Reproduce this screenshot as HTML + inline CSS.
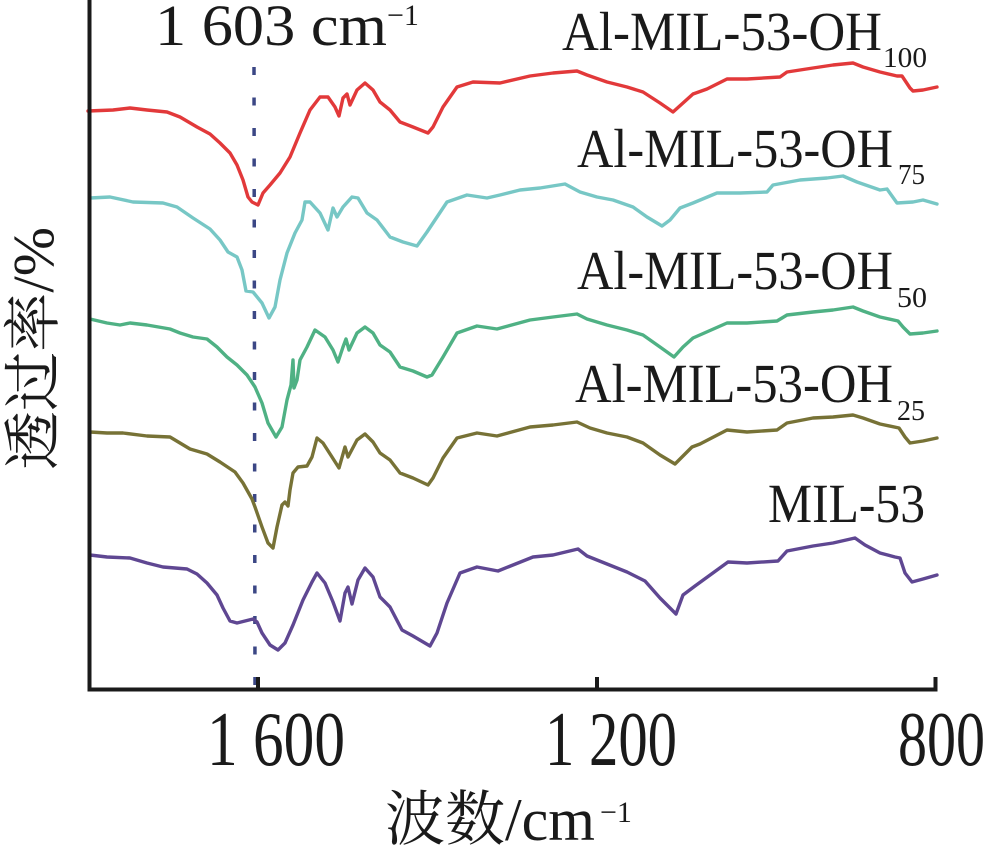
<!DOCTYPE html>
<html>
<head>
<meta charset="utf-8">
<style>
  html, body { margin: 0; padding: 0; background: #ffffff; }
  svg { display: block; }
  .serif { font-family: "Liberation Serif", "Noto Serif CJK SC", serif; fill: #1a1a1a; }
  .cjk { font-family: "Liberation Serif", "Noto Serif CJK SC", serif; fill: #1a1a1a; }
  .curve { fill: none; stroke-width: 3.4; stroke-linejoin: round; stroke-linecap: round; }
</style>
</head>
<body>
<svg width="987" height="847" viewBox="0 0 987 847" xmlns="http://www.w3.org/2000/svg">
  <rect x="0" y="0" width="987" height="847" fill="#ffffff"/>

  <!-- dashed marker line at 1603 -->
  <line x1="254" y1="67" x2="255" y2="686" stroke="#3b4785" stroke-width="3.5" stroke-dasharray="8 22.5"/>

  <!-- Red: Al-MIL-53-OH100 -->
  <polyline class="curve" stroke="#e2393a" points="
    88,111 113,110 130,108 147,110 167,112 180,117 197,127 210,134 220,143 230,153 237,165 243,180 248,197 252,202 258,205
    263,193 270,185 280,173 290,157 300,133 310,110 320,97 328,97 335,107 339,116 343,98 347,94 350,105 357,90 365,83
    373,90 380,102 390,110 400,122 413,127 428,133 433,127 443,107 457,87 473,82 500,83
    530,76 553,73 577,71 587,75 607,82 627,87 643,92 660,103 673,112 683,103 693,94 707,89 727,79 747,79 780,77 787,72
    813,68 833,65 853,63 863,67 880,72 897,76 902,76 910,88 913,91 923,90 937,87"/>

  <!-- Cyan: Al-MIL-53-OH75 -->
  <polyline class="curve" stroke="#77c7c5" points="
    90,198 110,197 133,202 163,203 177,207 193,218 210,229 220,240 228,252 237,257 242,270 246,291 253,292 262,303 269,318
    275,307 280,280 287,253 295,233 302,220 305,202 310,202 320,213 328,230 333,208 337,217 343,207 352,197 358,198
    367,213 377,220 390,237 403,242 417,246 427,232 437,217 447,202 467,195 487,198 500,195
    520,190 540,188 565,184 580,192 597,197 613,200 633,207 647,217 662,226 670,220 680,208 693,203 717,193 740,193
    767,192 773,185 800,180 827,178 843,176 857,182 880,190 887,189 897,203 913,202 923,200 937,204"/>

  <!-- Green: Al-MIL-53-OH50 -->
  <polyline class="curve" stroke="#4fb184" points="
    90,319 107,323 120,325 130,323 147,325 170,329 180,333 193,337 207,339 217,347 227,357 237,365 247,375 255,387
    262,403 268,423 276,437 282,427 287,400 291,385 293,360 294,388 297,380 300,360 307,347 315,330 325,337 333,350
    338,362 343,347 346,339 349,350 357,333 365,327 373,333 380,345 390,352 400,367 413,371 427,377 432,375 443,357
    457,333 477,326 497,329 530,320 553,317 577,314 587,319 607,325 627,330 643,335 660,347 674,357 683,347 693,338
    727,323 747,323 777,321 787,315 813,312 833,310 853,307 863,311 880,317 898,321 903,327 910,334 923,333 937,331"/>

  <!-- Olive: Al-MIL-53-OH25 -->
  <polyline class="curve" stroke="#777236" points="
    90,432 107,433 123,433 147,436 170,437 180,443 190,449 207,454 220,462 235,472 243,483 252,499 255,507 262,527
    268,543 273,548 277,527 282,505 285,502 288,506 290,490 293,473 298,467 307,466 312,457 317,438 323,443 332,457
    339,468 345,447 348,457 357,440 365,434 373,442 380,453 390,460 400,473 413,478 428,485 433,478 443,458 457,438
    477,433 497,436 530,427 553,425 577,422 590,428 607,433 627,437 643,443 660,455 675,464 692,447 700,444 727,430
    747,432 777,430 787,423 813,418 833,417 853,415 863,418 880,424 899,428 905,437 910,443 923,441 937,438"/>

  <!-- Purple: MIL-53 -->
  <polyline class="curve" stroke="#5f4792" points="
    90,555 107,557 130,558 147,563 163,567 187,569 197,574 207,583 217,595 223,608 230,621 237,623 253,619 257,622
    262,633 270,645 278,650 285,643 293,625 303,600 312,582 317,573 325,583 333,602 340,621 345,593 348,587 352,604
    358,580 365,568 373,577 380,597 390,607 402,630 413,636 430,646 437,633 447,603 460,573 477,567 498,571 533,557
    553,555 578,549 587,556 607,564 627,572 645,581 660,598 676,614 683,595 695,586 728,562 747,563 778,561 787,551
    813,546 833,543 855,538 865,545 880,553 895,557 900,558 905,573 912,582 923,579 937,575"/>

  <!-- Axes -->
  <line x1="89.5" y1="0" x2="89.5" y2="691.5" stroke="#1a1a1a" stroke-width="4"/>
  <line x1="87.5" y1="689.5" x2="937.5" y2="689.5" stroke="#1a1a1a" stroke-width="4"/>
  <line x1="258" y1="677" x2="258" y2="689" stroke="#1a1a1a" stroke-width="4"/>
  <line x1="597" y1="677" x2="597" y2="689" stroke="#1a1a1a" stroke-width="4"/>
  <line x1="935.5" y1="677" x2="935.5" y2="689" stroke="#1a1a1a" stroke-width="4"/>

  <!-- Tick labels -->
  <text class="serif" x="207" y="765" font-size="77" textLength="138" lengthAdjust="spacingAndGlyphs">1 600</text>
  <text class="serif" x="545" y="765" font-size="77" textLength="132" lengthAdjust="spacingAndGlyphs">1 200</text>
  <text class="serif" x="898" y="765" font-size="77" textLength="87" lengthAdjust="spacingAndGlyphs">800</text>

  <!-- X axis label -->
  <text class="cjk" x="385" y="840" font-size="60">波数/cm</text>
  <text class="serif" x="600" y="822" font-size="30">−1</text>

  <!-- Y axis label -->
  <text class="cjk" font-size="58" transform="translate(53,470) rotate(-90)" textLength="243" lengthAdjust="spacingAndGlyphs">透过率/%</text>

  <!-- Annotation 1603 -->
  <text class="serif" x="155" y="45" font-size="58" textLength="232" lengthAdjust="spacingAndGlyphs">1 603 cm</text>
  <text class="serif" x="387" y="25" font-size="30">−1</text>

  <!-- Series labels -->
  <text class="serif" x="562" y="50" font-size="55" textLength="320" lengthAdjust="spacingAndGlyphs">Al-MIL-53-OH</text>
  <text class="serif" x="883" y="67" font-size="29" textLength="44" lengthAdjust="spacingAndGlyphs">100</text>

  <text class="serif" x="577" y="167" font-size="55" textLength="316" lengthAdjust="spacingAndGlyphs">Al-MIL-53-OH</text>
  <text class="serif" x="898" y="184" font-size="29" textLength="27" lengthAdjust="spacingAndGlyphs">75</text>

  <text class="serif" x="577" y="289" font-size="55" textLength="316" lengthAdjust="spacingAndGlyphs">Al-MIL-53-OH</text>
  <text class="serif" x="897" y="307" font-size="29" textLength="30" lengthAdjust="spacingAndGlyphs">50</text>

  <text class="serif" x="575" y="402" font-size="55" textLength="318" lengthAdjust="spacingAndGlyphs">Al-MIL-53-OH</text>
  <text class="serif" x="897" y="420" font-size="29" textLength="28" lengthAdjust="spacingAndGlyphs">25</text>

  <text class="serif" x="768" y="522" font-size="55" textLength="157" lengthAdjust="spacingAndGlyphs">MIL-53</text>
</svg>
</body>
</html>
